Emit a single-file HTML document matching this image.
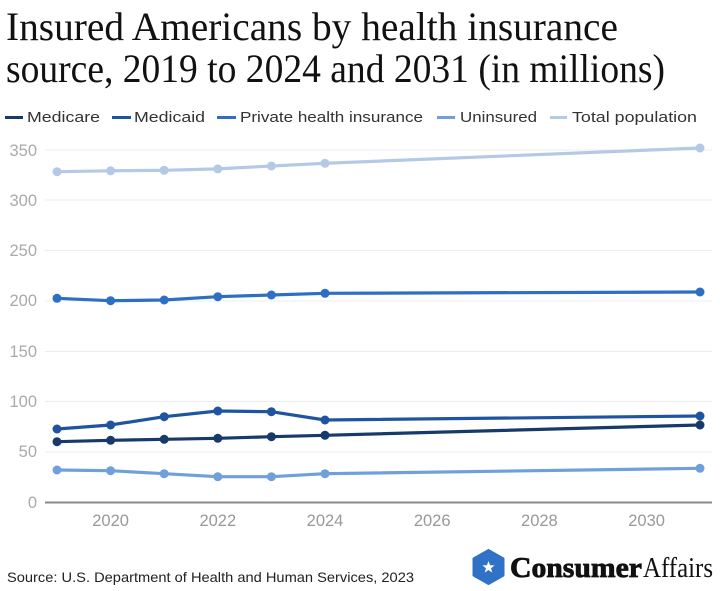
<!DOCTYPE html>
<html><head><meta charset="utf-8"><style>
html,body{margin:0;padding:0;background:#fff;}
svg{display:block;}
</style></head><body>
<svg width="720" height="591" viewBox="0 0 720 591" xmlns="http://www.w3.org/2000/svg">
<rect width="720" height="591" fill="#fff"/>
<!-- Title -->
<text x="6" y="40" font-family="Liberation Serif, serif" font-size="40" fill="#111" textLength="612" lengthAdjust="spacingAndGlyphs">Insured Americans by health insurance</text>
<text x="6" y="82" font-family="Liberation Serif, serif" font-size="40" fill="#111" textLength="659" lengthAdjust="spacingAndGlyphs">source, 2019 to 2024 and 2031 (in millions)</text>
<!-- Legend -->
<g font-family="Liberation Sans, sans-serif" font-size="15" fill="#333">
<rect x="5" y="116" width="18" height="3" fill="#173a6a"/>
<text x="27" y="122" textLength="73" lengthAdjust="spacingAndGlyphs">Medicare</text>
<rect x="112" y="116" width="19" height="3" fill="#1f55a0"/>
<text x="134" y="122" textLength="71" lengthAdjust="spacingAndGlyphs">Medicaid</text>
<rect x="217" y="116" width="19" height="3" fill="#2c6fc4"/>
<text x="240" y="122" textLength="183" lengthAdjust="spacingAndGlyphs">Private health insurance</text>
<rect x="437" y="116" width="18" height="3" fill="#6fa0dc"/>
<text x="460" y="122" textLength="77" lengthAdjust="spacingAndGlyphs">Uninsured</text>
<rect x="550" y="116" width="17" height="3" fill="#b4c9e6"/>
<text x="572" y="122" textLength="125" lengthAdjust="spacingAndGlyphs">Total population</text>
</g>
<!-- Gridlines -->
<g stroke="#ececec" stroke-width="1">
<line x1="45" x2="712" y1="150" y2="150"/>
<line x1="45" x2="712" y1="200" y2="200"/>
<line x1="45" x2="712" y1="250.5" y2="250.5"/>
<line x1="45" x2="712" y1="301" y2="301"/>
<line x1="45" x2="712" y1="351.5" y2="351.5"/>
<line x1="45" x2="712" y1="401.5" y2="401.5"/>
<line x1="45" x2="712" y1="452" y2="452"/>
</g>
<line x1="45" x2="712" y1="502.5" y2="502.5" stroke="#8a8a8a" stroke-width="2"/>
<!-- Y labels -->
<g font-family="Liberation Sans, sans-serif" font-size="16.5" fill="#aaa" text-anchor="end">
<text x="37" y="156">350</text>
<text x="37" y="206">300</text>
<text x="37" y="256">250</text>
<text x="37" y="306">200</text>
<text x="37" y="357">150</text>
<text x="37" y="407">100</text>
<text x="37" y="457">50</text>
<text x="37" y="508">0</text>
</g>
<!-- X labels -->
<g font-family="Liberation Sans, sans-serif" font-size="16.5" fill="#999" text-anchor="middle">
<text x="110.6" y="526">2020</text>
<text x="217.8" y="526">2022</text>
<text x="325" y="526">2024</text>
<text x="432.2" y="526">2026</text>
<text x="539.4" y="526">2028</text>
<text x="646.6" y="526">2030</text>
</g>
<!-- Series -->
<g fill="none" stroke-width="3.2" stroke-linejoin="round">
<polyline stroke="#b4c9e6" points="57,171.7 110.6,170.8 164.2,170.3 217.8,168.9 271.4,166 325,163.3 700,148"/>
<polyline stroke="#2c6fc4" points="57,298.3 110.6,300.7 164.2,300 217.8,296.7 271.4,295 325,293.3 700,292"/>
<polyline stroke="#1f55a0" points="57,429 110.6,425 164.2,416.7 217.8,411 271.4,411.7 325,420 700,416"/>
<polyline stroke="#173a6a" points="57,441.7 110.6,440.3 164.2,439.3 217.8,438.3 271.4,436.7 325,435.3 700,425"/>
<polyline stroke="#6fa0dc" points="57,470 110.6,470.7 164.2,473.7 217.8,476.7 271.4,476.7 325,473.7 700,468.3"/>
</g>
<g fill="#b4c9e6">
<circle cx="57" cy="171.7" r="4.5"/><circle cx="110.6" cy="170.8" r="4.5"/><circle cx="164.2" cy="170.3" r="4.5"/><circle cx="217.8" cy="168.9" r="4.5"/><circle cx="271.4" cy="166" r="4.5"/><circle cx="325" cy="163.3" r="4.5"/><circle cx="700" cy="148" r="4.5"/>
</g>
<g fill="#2c6fc4">
<circle cx="57" cy="298.3" r="4.5"/><circle cx="110.6" cy="300.7" r="4.5"/><circle cx="164.2" cy="300" r="4.5"/><circle cx="217.8" cy="296.7" r="4.5"/><circle cx="271.4" cy="295" r="4.5"/><circle cx="325" cy="293.3" r="4.5"/><circle cx="700" cy="292" r="4.5"/>
</g>
<g fill="#1f55a0">
<circle cx="57" cy="429" r="4.5"/><circle cx="110.6" cy="425" r="4.5"/><circle cx="164.2" cy="416.7" r="4.5"/><circle cx="217.8" cy="411" r="4.5"/><circle cx="271.4" cy="411.7" r="4.5"/><circle cx="325" cy="420" r="4.5"/><circle cx="700" cy="416" r="4.5"/>
</g>
<g fill="#173a6a">
<circle cx="57" cy="441.7" r="4.5"/><circle cx="110.6" cy="440.3" r="4.5"/><circle cx="164.2" cy="439.3" r="4.5"/><circle cx="217.8" cy="438.3" r="4.5"/><circle cx="271.4" cy="436.7" r="4.5"/><circle cx="325" cy="435.3" r="4.5"/><circle cx="700" cy="425" r="4.5"/>
</g>
<g fill="#6fa0dc">
<circle cx="57" cy="470" r="4.5"/><circle cx="110.6" cy="470.7" r="4.5"/><circle cx="164.2" cy="473.7" r="4.5"/><circle cx="217.8" cy="476.7" r="4.5"/><circle cx="271.4" cy="476.7" r="4.5"/><circle cx="325" cy="473.7" r="4.5"/><circle cx="700" cy="468.3" r="4.5"/>
</g>
<!-- Source -->
<text x="7" y="582" font-family="Liberation Sans, sans-serif" font-size="14" fill="#222" textLength="407" lengthAdjust="spacingAndGlyphs">Source: U.S. Department of Health and Human Services, 2023</text>
<!-- Logo -->
<polygon points="488.5,550 503.5,558.5 503.5,575.5 488.5,584 473.5,575.5 473.5,558.5" fill="#2f72c6" stroke="#2f72c6" stroke-width="2" stroke-linejoin="round"/>
<polygon points="488.5,561 490.1,565.3 494.6,565.4 491,568.2 492.3,572.6 488.5,570 484.7,572.6 486,568.2 482.4,565.4 486.9,565.3" fill="#fff"/>
<text x="510" y="577" font-family="Liberation Serif, serif" font-size="28" font-weight="bold" fill="#111" textLength="132" lengthAdjust="spacingAndGlyphs" stroke="#111" stroke-width="0.8">Consumer</text>
<text x="643" y="577" font-family="Liberation Serif, serif" font-size="28" fill="#111" textLength="70" lengthAdjust="spacingAndGlyphs">Affairs</text>
</svg>
</body></html>
